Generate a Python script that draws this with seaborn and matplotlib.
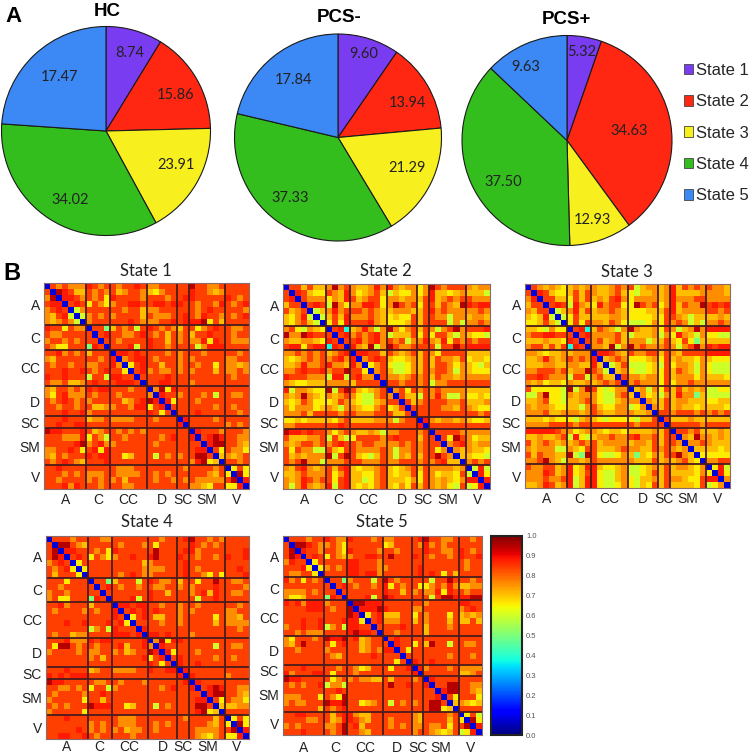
import matplotlib
matplotlib.use("Agg")
import matplotlib.pyplot as plt
from matplotlib.patches import Patch
import seaborn as sns
import pandas as pd
import numpy as np

sns.set_theme(style="white")
plt.rcParams['font.family'] = ['Liberation Sans', 'DejaVu Sans']

W, H = 750, 756

states = ["State 1", "State 2", "State 3", "State 4", "State 5"]
# wedge sizes as drawn in the picture (%)
hc_shares = [8.74, 15.86, 17.47, 34.02, 23.91]
pcs_neg_shares = [9.60, 13.94, 17.84, 37.33, 21.29]
pcs_pos_shares = [5.32, 34.63, 9.63, 37.50, 12.93]
# numbers as printed on those wedges: yellow and blue carry each other's value in the source
hc_printed = [8.74, 15.86, 23.91, 34.02, 17.47]
pcs_neg_printed = [9.60, 13.94, 21.29, 37.33, 17.84]
pcs_pos_printed = [5.32, 34.63, 12.93, 37.50, 9.63]
pie_colors = ["#7a3cf0", "#ff2612", "#f8f01e", "#34be1e", "#3c88f5"]

# networks along the matrix axes
networks = ["A", "C", "CC", "D", "SC", "SM", "V"]
network_sizes = [7, 4, 6, 5, 2, 6, 4]

# colour level of a cell
levels = [0.08, 0.38, 0.50, 0.60, 0.66, 0.71, 0.76, 0.84, 0.88, 0.95]

# upper triangles, one string per row, split by network, digit = index in levels
state1_rows = [
    "767666 8767 767787 66777 77 977667 7777",
    "98755 7676 756776 54677 77 877656 7777",
    "8876 7674 877776 77767 78 877777 8767",
    "787 4764 677887 78878 87 767768 7678",
    "36 7777 776775 66777 77 767877 7776",
    "3 6767 677775 76667 78 768776 7678",
    "6777 777876 66778 78 889475 7777",
    "772 576737 87676 57 746787 7667",
    "78 776678 76757 67 577877 7677",
    "7 767777 87757 67 668487 7666",
    "777837 87767 77 736888 7777",
    "88787 77767 67 776777 7767",
    "6788 76777 67 677777 6677",
    "478 77577 67 767747 6656",
    "78 67667 67 677757 6676",
    "7 77787 77 777777 7677",
    "77887 77 677777 7777",
    "6948 77 777777 7777",
    "877 67 776737 7667",
    "84 77 767777 7777",
    "7 77 777767 7677",
    "77 787777 7767",
    "8 777767 7777",
    "777777 6767",
    "87776 7776",
    "7898 7766",
    "899 7765",
    "74 7664",
    "5 6567",
    "7767",
    "474",
    "94",
    "8",
]
state2_rows = [
    "775755 6967 655686 86566 46 976777 6566",
    "87544 7658 645675 35446 46 855456 5553",
    "7666 4658 756774 66566 57 856767 7666",
    "787 3964 668874 69767 47 757659 8788",
    "35 6867 776765 56665 57 867666 6676",
    "3 5758 666765 45447 57 766366 5665",
    "4748 777865 44457 57 777363 6676",
    "781 568636 96467 57 636796 7778",
    "78 676786 35557 47 477536 5443",
    "7 786786 76736 68 658476 7677",
    "865936 97667 77 737797 8888",
    "88775 76567 57 647777 5555",
    "6787 54456 57 576657 4554",
    "467 43346 57 577646 5435",
    "67 53346 57 677636 5444",
    "7 66567 67 576656 6666",
    "77677 67 366777 7777",
    "6747 67 676666 5555",
    "755 37 686336 4454",
    "75 67 777667 5556",
    "7 77 776657 6544",
    "77 777777 7767",
    "8 656656 5445",
    "777777 7777",
    "77776 6666",
    "7497 6455",
    "678 6566",
    "65 6554",
    "5 5443",
    "6767",
    "383",
    "84",
    "8",
]
state3_rows = [
    "765654 5656 655676 73566 56 857676 7665",
    "87544 5757 655675 43556 56 855556 6665",
    "7755 4757 565786 46666 56 866677 6666",
    "787 3865 486774 49767 46 857669 7878",
    "35 6857 566765 44455 57 856666 7767",
    "3 4755 555665 44445 47 765355 5565",
    "4747 665764 33346 47 676353 6676",
    "781 576536 96556 47 635696 8888",
    "78 666675 35556 36 486536 4433",
    "7 675675 66635 57 547425 5555",
    "665936 96766 67 636796 8788",
    "88765 76677 57 657777 8888",
    "5676 44456 47 565546 5444",
    "357 33345 37 466536 4333",
    "56 43345 47 576536 4333",
    "7 66566 47 566646 5554",
    "67666 47 466766 6666",
    "5636 47 575656 3344",
    "645 36 586625 3333",
    "65 57 566555 4455",
    "6 57 565545 5554",
    "77 677767 6767",
    "7 555655 5555",
    "777776 7777",
    "77675 5565",
    "6596 6565",
    "667 6555",
    "55 5545",
    "4 4444",
    "6677",
    "483",
    "84",
    "6",
]
state4_rows = [
    "777677 7766 777777 77677 78 977676 7777",
    "99765 7777 767776 74777 77 876767 7777",
    "8877 7674 877777 79777 78 867777 7778",
    "787 4764 677877 89777 87 767767 8778",
    "47 7777 777775 67777 78 777777 7777",
    "4 7777 777776 66677 78 767777 7787",
    "7777 767876 67777 78 776474 7778",
    "772 577737 87667 57 747797 7667",
    "78 767767 76677 67 677787 7776",
    "7 777777 87757 77 678587 7667",
    "777837 87777 77 737787 7777",
    "88788 77677 67 767777 7767",
    "7878 78777 67 677777 6677",
    "478 75577 67 777747 6657",
    "77 77677 67 777757 6666",
    "8 77777 77 777777 7767",
    "88787 77 677777 7777",
    "6948 87 777777 7777",
    "877 77 777737 7667",
    "84 77 767777 7777",
    "7 87 777767 7677",
    "87 787777 7777",
    "8 777777 7777",
    "877777 6777",
    "87777 7777",
    "7898 7766",
    "899 7765",
    "74 7664",
    "5 5566",
    "7777",
    "474",
    "94",
    "8",
]
state5_rows = [
    "777677 8766 877767 66777 78 977667 7767",
    "99876 6764 777777 45777 76 867677 7777",
    "8776 7764 877776 77677 77 877667 8767",
    "787 4765 677887 79777 87 767767 8778",
    "47 7777 887776 77777 77 777777 7677",
    "4 6767 887776 67777 78 777777 7677",
    "7777 887886 77777 78 787475 7777",
    "772 677737 97677 77 737797 7767",
    "78 767767 84767 74 467686 5566",
    "7 777777 87757 67 668487 7677",
    "777837 98777 77 737998 8899",
    "99888 77777 77 677777 8877",
    "8889 87777 66 777777 6787",
    "478 55577 47 677747 5656",
    "78 66677 57 677757 5575",
    "7 77787 77 577767 7777",
    "77677 77 577777 7777",
    "7877 77 777777 7777",
    "877 47 597737 7667",
    "74 77 777777 7777",
    "7 77 777767 7767",
    "87 787777 7777",
    "8 677767 6666",
    "777777 5567",
    "87777 7777",
    "7799 7766",
    "899 7765",
    "74 7774",
    "5 6545",
    "7777",
    "473",
    "94",
    "8",
]


def build_matrix(rows):
    """Turn the digit rows into a symmetric correlation table."""
    n = sum(network_sizes)
    mat = np.full((n, n), levels[0])
    for i, row in enumerate(rows):
        digits = row.replace(" ", "")
        assert len(digits) == n - i - 1, f"row {i}: {len(digits)}"
        for j, d in enumerate(digits):
            mat[i, i + 1 + j] = mat[i + 1 + j, i] = levels[int(d)]
    return pd.DataFrame(mat)


def box(x0, y0, x1, y1):
    """Pixel box of the reference to figure fractions."""
    return [x0 / W, 1 - y1 / H, (x1 - x0) / W, (y1 - y0) / H]


def label(x, y, s, **kw):
    fig.text(x / W, 1 - y / H, s, ha='center', va='center', **kw)


fig = plt.figure(figsize=(W / 100, H / 100), dpi=100, facecolor='white')

# A: pies
pies = [
    ("HC", hc_shares, hc_printed, (106, 131, 104.5), (107, 11),
     [(130, 53), (176, 95), (176, 165), (70, 200), (60, 77)]),
    ("PCS-", pcs_neg_shares, pcs_neg_printed, (338, 137.5, 103.5), (339, 17),
     [(364, 54), (407, 103), (407, 168), (290, 198), (293, 80)]),
    ("PCS+", pcs_pos_shares, pcs_pos_printed, (567, 140.5, 105), (566, 19),
     [(582, 52), (629, 131), (592, 220), (503, 182), (526, 67)]),
]
for name, shares, printed, (cx, cy, r), title_xy, text_xy in pies:
    ax = fig.add_axes(box(cx - r, cy - r, cx + r, cy + r))
    ax.pie(shares, colors=pie_colors, startangle=90, counterclock=False, radius=1,
           wedgeprops={'edgecolor': '#1a1a1a', 'linewidth': 0.8, 'clip_on': False})
    ax.set_xlim(-1, 1)
    ax.set_ylim(-1, 1)
    label(*title_xy, name, fontsize=13.5, fontweight='bold', color='black')
    for (tx, ty), v in zip(text_xy, printed):
        label(tx, ty, f"{v:.2f}", fontsize=10.5, family=['Lato', 'DejaVu Sans'], color='#222222')

handles = [Patch(facecolor=c, edgecolor='#444444', linewidth=0.6) for c in pie_colors]
fig.legend(handles, states, loc='upper left', bbox_to_anchor=(684 / W, 1 - 63 / H), frameon=False,
           fontsize=12, handlelength=0.55, handleheight=0.6, handletextpad=0.2,
           labelspacing=0.98, borderpad=0, borderaxespad=0)

label(13, 16, "A", fontsize=16, fontweight='bold', color='black')
label(12, 273, "B", fontsize=17, fontweight='bold', color='black')

# B: state matrices
panels = [
    (state1_rows, "State 1", (44, 283, 249, 489), 271, 3),
    (state2_rows, "State 2", (283, 284, 490, 489), 271, 3),
    (state3_rows, "State 3", (525, 284, 730, 488), 272, 3),
    (state4_rows, "State 4", (46, 536, 249, 739), 522, 0.5),
    (state5_rows, "State 5", (283, 536, 482, 735), 522, 4.5),
]
edges = np.cumsum(network_sizes)
centers = edges - np.array(network_sizes) / 2
cbar_ax = fig.add_axes(box(491, 536, 522, 735))

for idx, (rows, name, bounds, title_y, xpad) in enumerate(panels):
    ax = fig.add_axes(box(*bounds))
    last = idx == len(panels) - 1
    sns.heatmap(build_matrix(rows), ax=ax, vmin=0, vmax=1, cmap="jet", square=False,
                cbar=last, cbar_ax=cbar_ax if last else None,
                xticklabels=False, yticklabels=False)
    ax.hlines(edges[:-1], 0, edges[-1], color='#4a1c1c', linewidth=1.3)
    ax.vlines(edges[:-1], 0, edges[-1], color='#4a1c1c', linewidth=1.3)
    ax.set_xticks(centers, networks)
    ax.set_yticks(centers, networks, rotation=0)
    ax.tick_params(axis='both', length=0, labelsize=10, labelcolor='#222222')
    ax.tick_params(axis='x', pad=xpad)
    ax.tick_params(axis='y', pad=3)
    for side in ax.spines.values():
        side.set_visible(True)
        side.set_color('#8c6a6a')
        side.set_linewidth(0.8)
    label((bounds[0] + bounds[2]) / 2 - 1, title_y, name, fontsize=12,
          family=['Lato', 'DejaVu Sans'], color='#222222')

cbar = ax.collections[0].colorbar
cbar.set_ticks(np.arange(0, 1.01, 0.1))
cbar.ax.tick_params(labelsize=5.5, labelcolor='#555555', length=3, width=0.5, color='#333333',
                    direction='in', pad=3)
cbar.outline.set_visible(True)
cbar.outline.set_edgecolor('#222222')
cbar.outline.set_linewidth(1.5)

fig.savefig("out.png", dpi=100)
